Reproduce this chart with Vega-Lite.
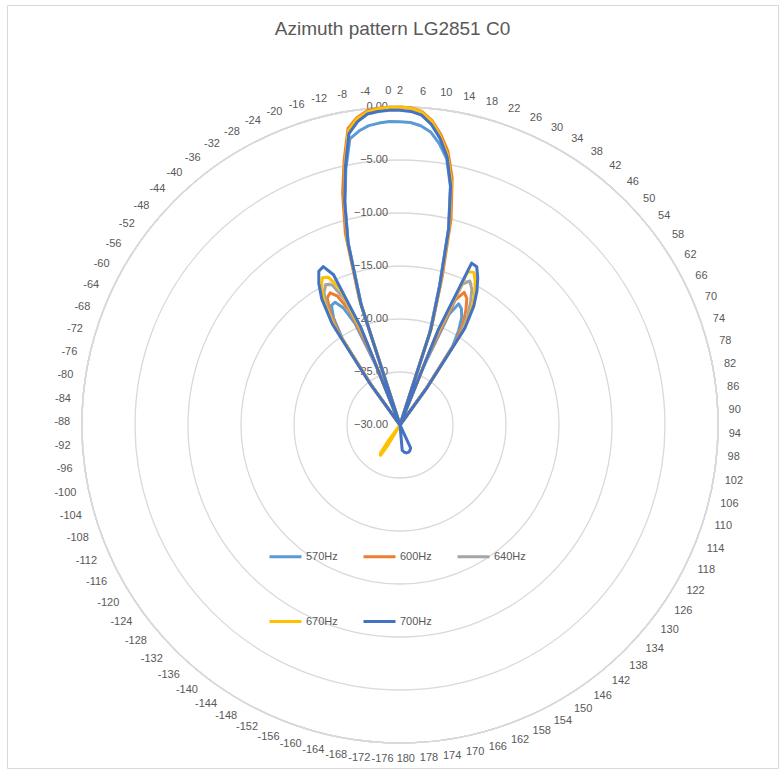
{
  "$schema": "https://vega.github.io/schema/vega-lite/v6.json",
  "width": 771,
  "height": 763,
  "autosize": "none",
  "padding": {"left": 7, "top": 5, "right": 4, "bottom": 4},
  "background": "white",
  "title": {"text": "Azimuth pattern LG2851 C0", "anchor": "middle", "frame": "group", "offset": -34, "fontSize": 19, "font": "Liberation Sans", "fontWeight": "normal", "color": "#595959"},
  "config": {"view": {"stroke": "#d9d9d9", "strokeWidth": 1}},
  "layer": [
    {
      "data": {"values": [{"db": -25}, {"db": -20}, {"db": -15}, {"db": -10}, {"db": -5}, {"db": 0}]},
      "mark": {"type": "arc", "theta": 0, "theta2": 6.2832, "filled": false, "stroke": "#d9d9d9", "strokeWidth": 1.3},
      "encoding": {
        "x": {"datum": 0, "type": "quantitative", "scale": {"domain": [-1.23585, 1.18868], "nice": false, "zero": false}, "axis": null},
        "y": {"datum": 0, "type": "quantitative", "scale": {"domain": [-1.07862, 1.32075], "nice": false, "zero": false}, "axis": null},
        "radius": {"field": "db", "type": "quantitative", "stack": null, "scale": {"type": "linear", "domain": [-30, 0], "range": [0, 318], "zero": false, "nice": false}, "legend": null}
      }
    },
    {
      "data": {"values": [{"db": -30}, {"db": -25}, {"db": -20}, {"db": -15}, {"db": -10}, {"db": -5}, {"db": 0}]},
      "transform": [{"calculate": "(datum.db + 30) / 30", "as": "ry"}],
      "mark": {"type": "text", "align": "right", "baseline": "middle", "dx": -12, "fontSize": 11, "font": "Liberation Sans", "color": "#595959"},
      "encoding": {
        "x": {"datum": 0, "type": "quantitative"},
        "y": {"field": "ry", "type": "quantitative"},
        "text": {"field": "db", "type": "quantitative", "format": ".2f"}
      }
    },
    {
      "data": {"values": [
        {"f":"570Hz","i":0,"db":-1.4},{"f":"570Hz","i":1,"db":-1.45},{"f":"570Hz","i":2,"db":-1.7},{"f":"570Hz","i":3,"db":-2.2},{"f":"570Hz","i":4,"db":-3.2},{"f":"570Hz","i":5,"db":-4.5},{"f":"570Hz","i":6,"db":-7},{"f":"570Hz","i":7,"db":-11},{"f":"570Hz","i":8,"db":-16.5},{"f":"570Hz","i":9,"db":-21},{"f":"570Hz","i":10,"db":-30},
        {"f":"570Hz","i":11,"db":-24.3},{"f":"570Hz","i":12,"db":-18.6},{"f":"570Hz","i":13,"db":-17.3},{"f":"570Hz","i":14,"db":-17.6},{"f":"570Hz","i":15,"db":-18.3},{"f":"570Hz","i":16,"db":-19.5},{"f":"570Hz","i":17,"db":-21.1},{"f":"570Hz","i":18,"db":-25.9},{"f":"570Hz","i":19,"db":-30},
        {"f":"570Hz","i":162,"db":-30},{"f":"570Hz","i":163,"db":-25.7},{"f":"570Hz","i":164,"db":-20.3},{"f":"570Hz","i":165,"db":-18.1},{"f":"570Hz","i":166,"db":-17},{"f":"570Hz","i":167,"db":-16.9},{"f":"570Hz","i":168,"db":-17.7},{"f":"570Hz","i":169,"db":-19.5},{"f":"570Hz","i":170,"db":-24.1},{"f":"570Hz","i":171,"db":-30},
        {"f":"570Hz","i":172,"db":-18.2},{"f":"570Hz","i":173,"db":-12.2},{"f":"570Hz","i":174,"db":-8.4},{"f":"570Hz","i":175,"db":-5.3},{"f":"570Hz","i":176,"db":-2.6},{"f":"570Hz","i":177,"db":-2.0},{"f":"570Hz","i":178,"db":-1.6},{"f":"570Hz","i":179,"db":-1.45},{"f":"570Hz","i":180,"db":-1.35},{"f":"570Hz","i":181,"db":-1.4},

        {"f":"600Hz","i":0,"db":0},{"f":"600Hz","i":1,"db":-0.05},{"f":"600Hz","i":2,"db":-0.35},{"f":"600Hz","i":3,"db":-1.1},{"f":"600Hz","i":4,"db":-2.3},{"f":"600Hz","i":5,"db":-3.8},{"f":"600Hz","i":6,"db":-6.2},{"f":"600Hz","i":7,"db":-10},{"f":"600Hz","i":8,"db":-15.5},{"f":"600Hz","i":9,"db":-20.3},{"f":"600Hz","i":10,"db":-30},
        {"f":"600Hz","i":11,"db":-23.3},{"f":"600Hz","i":12,"db":-17.1},{"f":"600Hz","i":13,"db":-16.1},{"f":"600Hz","i":14,"db":-16.5},{"f":"600Hz","i":15,"db":-17.5},{"f":"600Hz","i":16,"db":-18.7},{"f":"600Hz","i":17,"db":-20.5},{"f":"600Hz","i":18,"db":-25.8},{"f":"600Hz","i":19,"db":-30},
        {"f":"600Hz","i":162,"db":-30},{"f":"600Hz","i":163,"db":-25.5},{"f":"600Hz","i":164,"db":-19.8},{"f":"600Hz","i":165,"db":-17.5},{"f":"600Hz","i":166,"db":-16.2},{"f":"600Hz","i":167,"db":-15.9},{"f":"600Hz","i":168,"db":-16.5},{"f":"600Hz","i":169,"db":-18.2},{"f":"600Hz","i":170,"db":-23},{"f":"600Hz","i":171,"db":-30},
        {"f":"600Hz","i":172,"db":-17.5},{"f":"600Hz","i":173,"db":-11.2},{"f":"600Hz","i":174,"db":-7.5},{"f":"600Hz","i":175,"db":-4.5},{"f":"600Hz","i":176,"db":-1.6},{"f":"600Hz","i":177,"db":-0.7},{"f":"600Hz","i":178,"db":-0.2},{"f":"600Hz","i":179,"db":-0.05},{"f":"600Hz","i":180,"db":0},{"f":"600Hz","i":181,"db":0},

        {"f":"640Hz","i":0,"db":0},{"f":"640Hz","i":1,"db":-0.1},{"f":"640Hz","i":2,"db":-0.45},{"f":"640Hz","i":3,"db":-1.3},{"f":"640Hz","i":4,"db":-2.6},{"f":"640Hz","i":5,"db":-4.2},{"f":"640Hz","i":6,"db":-6.8},{"f":"640Hz","i":7,"db":-10.8},{"f":"640Hz","i":8,"db":-16.2},{"f":"640Hz","i":9,"db":-20.6},{"f":"640Hz","i":10,"db":-30},
        {"f":"640Hz","i":11,"db":-22.1},{"f":"640Hz","i":12,"db":-15.5},{"f":"640Hz","i":13,"db":-14.9},{"f":"640Hz","i":14,"db":-15.5},{"f":"640Hz","i":15,"db":-16.6},{"f":"640Hz","i":16,"db":-17.9},{"f":"640Hz","i":17,"db":-19.9},{"f":"640Hz","i":18,"db":-25.6},{"f":"640Hz","i":19,"db":-30},
        {"f":"640Hz","i":162,"db":-30},{"f":"640Hz","i":163,"db":-25.3},{"f":"640Hz","i":164,"db":-19.3},{"f":"640Hz","i":165,"db":-17},{"f":"640Hz","i":166,"db":-15.6},{"f":"640Hz","i":167,"db":-15},{"f":"640Hz","i":168,"db":-15.3},{"f":"640Hz","i":169,"db":-17},{"f":"640Hz","i":170,"db":-21.7},{"f":"640Hz","i":171,"db":-30},
        {"f":"640Hz","i":172,"db":-18},{"f":"640Hz","i":173,"db":-12},{"f":"640Hz","i":174,"db":-8.2},{"f":"640Hz","i":175,"db":-5},{"f":"640Hz","i":176,"db":-1.9},{"f":"640Hz","i":177,"db":-0.9},{"f":"640Hz","i":178,"db":-0.3},{"f":"640Hz","i":179,"db":-0.1},{"f":"640Hz","i":180,"db":0},{"f":"640Hz","i":181,"db":0},

        {"f":"670Hz","i":0,"db":0},{"f":"670Hz","i":1,"db":-0.1},{"f":"670Hz","i":2,"db":-0.4},{"f":"670Hz","i":3,"db":-1.2},{"f":"670Hz","i":4,"db":-2.5},{"f":"670Hz","i":5,"db":-4.1},{"f":"670Hz","i":6,"db":-6.6},{"f":"670Hz","i":7,"db":-10.6},{"f":"670Hz","i":8,"db":-16},{"f":"670Hz","i":9,"db":-20.5},{"f":"670Hz","i":10,"db":-30},
        {"f":"670Hz","i":11,"db":-21},{"f":"670Hz","i":12,"db":-14.2},{"f":"670Hz","i":13,"db":-14},{"f":"670Hz","i":14,"db":-14.8},{"f":"670Hz","i":15,"db":-15.9},{"f":"670Hz","i":16,"db":-17.2},{"f":"670Hz","i":17,"db":-19.3},{"f":"670Hz","i":18,"db":-25.5},{"f":"670Hz","i":19,"db":-30},
        {"f":"670Hz","i":105,"db":-30},{"f":"670Hz","i":106,"db":-27.8},{"f":"670Hz","i":107,"db":-26.6},{"f":"670Hz","i":108,"db":-26.8},{"f":"670Hz","i":109,"db":-28.2},{"f":"670Hz","i":110,"db":-30},
        {"f":"670Hz","i":162,"db":-30},{"f":"670Hz","i":163,"db":-25.3},{"f":"670Hz","i":164,"db":-19},{"f":"670Hz","i":165,"db":-16.5},{"f":"670Hz","i":166,"db":-15.1},{"f":"670Hz","i":167,"db":-14.3},{"f":"670Hz","i":168,"db":-14.5},{"f":"670Hz","i":169,"db":-15.9},{"f":"670Hz","i":170,"db":-20.9},{"f":"670Hz","i":171,"db":-30},
        {"f":"670Hz","i":172,"db":-17.8},{"f":"670Hz","i":173,"db":-11.9},{"f":"670Hz","i":174,"db":-8.1},{"f":"670Hz","i":175,"db":-4.9},{"f":"670Hz","i":176,"db":-1.8},{"f":"670Hz","i":177,"db":-0.8},{"f":"670Hz","i":178,"db":-0.3},{"f":"670Hz","i":179,"db":-0.1},{"f":"670Hz","i":180,"db":0},{"f":"670Hz","i":181,"db":0},

        {"f":"700Hz","i":0,"db":-0.3},{"f":"700Hz","i":1,"db":-0.4},{"f":"700Hz","i":2,"db":-0.7},{"f":"700Hz","i":3,"db":-1.5},{"f":"700Hz","i":4,"db":-2.7},{"f":"700Hz","i":5,"db":-4.3},{"f":"700Hz","i":6,"db":-6.9},{"f":"700Hz","i":7,"db":-10.9},{"f":"700Hz","i":8,"db":-16.3},{"f":"700Hz","i":9,"db":-20.6},{"f":"700Hz","i":10,"db":-30},
        {"f":"700Hz","i":11,"db":-20.3},{"f":"700Hz","i":12,"db":-13.3},{"f":"700Hz","i":13,"db":-13.4},{"f":"700Hz","i":14,"db":-14.3},{"f":"700Hz","i":15,"db":-15.4},{"f":"700Hz","i":16,"db":-16.8},{"f":"700Hz","i":17,"db":-19},{"f":"700Hz","i":18,"db":-25.5},{"f":"700Hz","i":19,"db":-30},
        {"f":"700Hz","i":77,"db":-30},{"f":"700Hz","i":78,"db":-27.6},{"f":"700Hz","i":80,"db":-27.4},{"f":"700Hz","i":82,"db":-27.3},{"f":"700Hz","i":84,"db":-27.3},{"f":"700Hz","i":86,"db":-27.4},{"f":"700Hz","i":88,"db":-27.6},{"f":"700Hz","i":89,"db":-30},
        {"f":"700Hz","i":162,"db":-30},{"f":"700Hz","i":163,"db":-25},{"f":"700Hz","i":164,"db":-18.5},{"f":"700Hz","i":165,"db":-16},{"f":"700Hz","i":166,"db":-14.6},{"f":"700Hz","i":167,"db":-13.6},{"f":"700Hz","i":168,"db":-13.4},{"f":"700Hz","i":169,"db":-14.5},{"f":"700Hz","i":170,"db":-20},{"f":"700Hz","i":171,"db":-30},
        {"f":"700Hz","i":172,"db":-18},{"f":"700Hz","i":173,"db":-12.1},{"f":"700Hz","i":174,"db":-8.3},{"f":"700Hz","i":175,"db":-5.1},{"f":"700Hz","i":176,"db":-2.1},{"f":"700Hz","i":177,"db":-1.1},{"f":"700Hz","i":178,"db":-0.5},{"f":"700Hz","i":179,"db":-0.35},{"f":"700Hz","i":180,"db":-0.3},{"f":"700Hz","i":181,"db":-0.3}
      ]},
      "transform": [
        {"calculate": "datum.i * 2 * PI / 181", "as": "th"},
        {"calculate": "(max(datum.db, -30) + 30) / 30", "as": "rr"},
        {"calculate": "datum.rr * sin(datum.th)", "as": "px"},
        {"calculate": "datum.rr * cos(datum.th)", "as": "py"}
      ],
      "mark": {"type": "line", "strokeWidth": 3, "strokeJoin": "round", "strokeCap": "round"},
      "encoding": {
        "x": {"field": "px", "type": "quantitative"},
        "y": {"field": "py", "type": "quantitative"},
        "order": {"field": "i", "type": "quantitative"},
        "color": {
          "field": "f", "type": "nominal",
          "scale": {"domain": ["570Hz", "600Hz", "640Hz", "670Hz", "700Hz"], "range": ["#5B9BD5", "#ED7D31", "#A5A5A5", "#FFC000", "#4472C4"]},
          "legend": {"orient": "none", "legendX": 261, "legendY": 534, "direction": "horizontal", "columns": 3, "title": null, "symbolType": "stroke", "symbolSize": 1024, "symbolStrokeWidth": 3, "labelFontSize": 11, "labelFont": "Liberation Sans", "labelColor": "#595959", "labelOffset": 3, "columnPadding": 19, "rowPadding": 41}
        }
      }
    },
    {
      "data": {"values": [
        {"az":2},{"az":6},{"az":10},{"az":14},{"az":18},{"az":22},{"az":26},{"az":30},{"az":34},{"az":38},{"az":42},{"az":46},{"az":50},{"az":54},{"az":58},{"az":62},{"az":66},{"az":70},{"az":74},{"az":78},{"az":82},{"az":86},{"az":90},{"az":94},{"az":98},{"az":102},{"az":106},{"az":110},{"az":114},{"az":118},{"az":122},{"az":126},{"az":130},{"az":134},{"az":138},{"az":142},{"az":146},{"az":150},{"az":154},{"az":158},{"az":162},{"az":166},{"az":170},{"az":174},{"az":178},
        {"az":-180},{"az":-176},{"az":-172},{"az":-168},{"az":-164},{"az":-160},{"az":-156},{"az":-152},{"az":-148},{"az":-144},{"az":-140},{"az":-136},{"az":-132},{"az":-128},{"az":-124},{"az":-120},{"az":-116},{"az":-112},{"az":-108},{"az":-104},{"az":-100},{"az":-96},{"az":-92},{"az":-88},{"az":-84},{"az":-80},{"az":-76},{"az":-72},{"az":-68},{"az":-64},{"az":-60},{"az":-56},{"az":-52},{"az":-48},{"az":-44},{"az":-40},{"az":-36},{"az":-32},{"az":-28},{"az":-24},{"az":-20},{"az":-16},{"az":-12},{"az":-8},{"az":-4},{"az":0}
      ]},
      "transform": [
        {"calculate": "datum.az > 0 ? (datum.az - 2) / 2 : 180 + datum.az / 2", "as": "i"},
        {"calculate": "datum.az == -180 ? '180' : '' + datum.az", "as": "t"},
        {"calculate": "datum.i * 2 * PI / 181", "as": "th"},
        {"calculate": "329 + abs(sin(datum.th)) * length(datum.t) * 2.9 + abs(cos(datum.th)) * 5", "as": "rp"},
        {"calculate": "datum.rp * sin(datum.th) / 318", "as": "lx"},
        {"calculate": "datum.rp * cos(datum.th) / 318", "as": "ly"}
      ],
      "mark": {"type": "text", "align": "center", "baseline": "middle", "fontSize": 11, "font": "Liberation Sans", "color": "#595959"},
      "encoding": {
        "x": {"field": "lx", "type": "quantitative"},
        "y": {"field": "ly", "type": "quantitative"},
        "text": {"field": "t", "type": "nominal"}
      }
    }
  ]
}
